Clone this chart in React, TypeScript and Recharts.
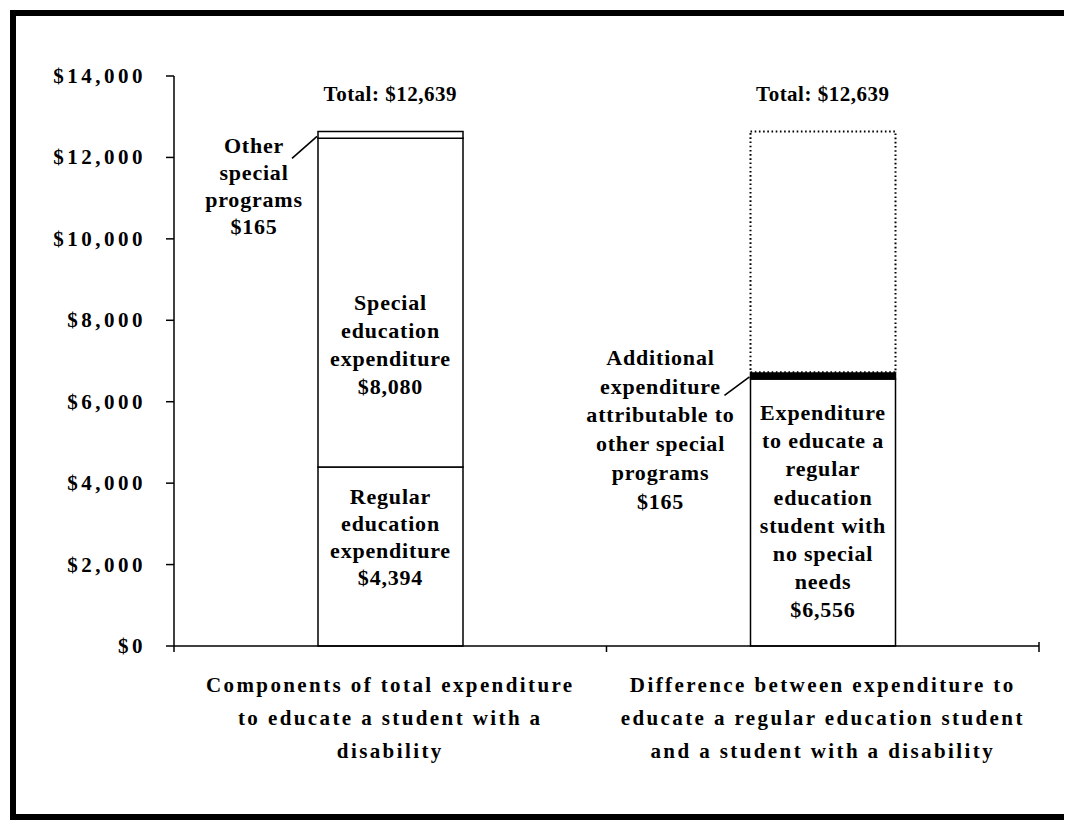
import React from "react";
import { ComposedChart, Bar, Line, XAxis, YAxis, Cell, LabelList } from "recharts";

// ---------- data ----------
const categoryKeys = ["components", "difference"];
const categoryLines = [
  ["Components of total expenditure", "to educate a student with a", "disability"],
  ["Difference between expenditure to", "educate a regular education student", "and a student with a disability"],
];
const regularValues = [4394, 6556];
const specialValues = [8080, 0];
const otherValues = [165, 165];
const additionalValues = [0, 5918];
const totalValues = [12639, 12639];
const yTicks = [0, 2000, 4000, 6000, 8000, 10000, 12000, 14000];

const regularLabels: (string[] | null)[] = [
  ["Regular", "education", "expenditure", "$4,394"],
  ["Expenditure", "to educate a", "regular", "education", "student with", "no special", "needs", "$6,556"],
];
const specialLabels: (string[] | null)[] = [["Special", "education", "expenditure", "$8,080"], null];
const otherLabels: (string[] | null)[] = [
  ["Other", "special", "programs", "$165"],
  ["Additional", "expenditure", "attributable to", "other special", "programs", "$165"],
];
const additionalLabels: (string[] | null)[] = [
  null,
  ["Additional", "expenditure", "attributable", "to special", "education", "$5,918"],
];

const data = categoryKeys.map((k, i) => ({
  name: k,
  regular: regularValues[i],
  special: specialValues[i],
  other: otherValues[i],
  additional: additionalValues[i],
  total: totalValues[i],
}));

// ---------- styles ----------
const FONT = "'Liberation Serif', 'Times New Roman', serif";
const W = 1064;
const H = 812;
const MARGIN = { top: 68, right: 33, bottom: 74, left: 36 };
const Y_WIDTH = 130;
const PLOT_W = W - MARGIN.left - MARGIN.right - Y_WIDTH;

type Layout = {
  dx?: number;
  dy: number;
  lh: number;
  leader?: [number, number, number, number];
};

const regularLayout: (Layout | null)[] = [
  { dy: 30, lh: 27 },
  { dy: 34, lh: 28.2 },
];
const specialLayout: (Layout | null)[] = [{ dy: 165, lh: 28 }, null];
const otherLayout: (Layout | null)[] = [
  { dx: -64, dy: 15, lh: 26.7, leader: [-26, 27, -1, 5] },
  { dx: -90, dy: -14.5, lh: 28.8, leader: [-26, 23, -1, 4.5] },
];
const additionalLayout: (Layout | null)[] = [null, { dy: 44.5, lh: 28.2 }];

function makeSegmentLabel(lines: (string[] | null)[], layout: (Layout | null)[]) {
  return (props: any) => {
    const idx = props.index;
    const txt = lines[idx];
    const lay = layout[idx];
    if (!txt || !lay) return null;
    const vb = props.viewBox && props.viewBox.width !== undefined ? props.viewBox : props;
    const x = Number(vb.x);
    const y = Number(vb.y);
    const w = Number(vb.width);
    const h = Number(vb.height);
    const top = Math.min(y, y + h);
    const cx = lay.dx === undefined ? x + w / 2 : x + lay.dx;
    return (
      <g>
        {lay.leader && (
          <line
            x1={x + lay.leader[0]}
            y1={top + lay.leader[1]}
            x2={x + lay.leader[2]}
            y2={top + lay.leader[3]}
            stroke="#000"
            strokeWidth={1.6}
          />
        )}
        <text
          textAnchor="middle"
          fontFamily={FONT}
          fontWeight="bold"
          fontSize={22}
          letterSpacing={0.8}
          fill="#000"
        >
          {txt.map((t, i) => (
            <tspan key={i} x={cx} y={top + lay.dy + i * lay.lh + 7}>
              {t}
            </tspan>
          ))}
        </text>
      </g>
    );
  };
}

const renderTotal = (props: any) => {
  const idx = props.index;
  const x = Number(props.x);
  const y = Number(props.y);
  return (
    <text
      x={x}
      y={y - 30}
      textAnchor="middle"
      fontFamily={FONT}
      fontWeight="bold"
      fontSize={21}
      letterSpacing={0.5}
      fill="#000"
    >
      {`Total: $${totalValues[idx].toLocaleString("en-US")}`}
    </text>
  );
};

const YTick = (props: any) => {
  const { x, y, payload } = props;
  return (
    <text
      x={x}
      y={y}
      dy={7}
      textAnchor="end"
      fontFamily={FONT}
      fontWeight="bold"
      fontSize={21}
      letterSpacing={3.5}
      fill="#000"
    >
      {`$${Number(payload.value).toLocaleString("en-US")}`}
    </text>
  );
};

const XTick = (props: any) => {
  const { x, y, payload } = props;
  const idx = payload.index ?? categoryKeys.indexOf(payload.value);
  const lines = categoryLines[idx] || [];
  const half = PLOT_W / categoryKeys.length / 2;
  const isLast = idx === categoryKeys.length - 1;
  return (
    <g>
      <line x1={x - half} y1={y} x2={x - half} y2={y + 6} stroke="#000" strokeWidth={1.5} />
      {isLast && <line x1={x + half} y1={y - 4} x2={x + half} y2={y + 6} stroke="#000" strokeWidth={1.5} />}
      <text
        textAnchor="middle"
        fontFamily={FONT}
        fontWeight="bold"
        fontSize={21}
        letterSpacing={2.4}
        fill="#000"
      >
        {lines.map((t, i) => (
          <tspan key={i} x={x} y={y + 46 + i * 33}>
            {t}
          </tspan>
        ))}
      </text>
    </g>
  );
};

const regularFill = ["#fff", "#fff"];
const specialFill = ["#fff", "#fff"];
const otherFill = ["#fff", "#000"];
const additionalFill = ["#fff", "#fff"];

export default function App() {
  return (
    <div style={{ position: "relative", width: W, height: H, overflow: "hidden", background: "#fff" }}>
      <div
        style={{
          position: "absolute",
          left: 2,
          top: 2,
          width: 1120,
          height: 810,
          boxSizing: "border-box",
          border: "6px solid #000",
        }}
      />
      <div style={{ position: "absolute", left: 0, top: 0 }}>
        <ComposedChart width={W} height={H} data={data} margin={MARGIN} barCategoryGap={0}>
          <XAxis
            dataKey="name"
            type="category"
            axisLine={{ stroke: "#000", strokeWidth: 1.5 }}
            tickLine={false}
            tickSize={0}
            tickMargin={0}
            tick={<XTick />}
            interval={0}
            height={100}
          />
          <YAxis
            type="number"
            domain={[0, 14000]}
            ticks={yTicks}
            width={Y_WIDTH}
            tickSize={8}
            tickMargin={20}
            tick={<YTick />}
            interval={0}
            tickLine={{ stroke: "#000", strokeWidth: 1.5 }}
            axisLine={{ stroke: "#000", strokeWidth: 1.5 }}
          />
          <Bar dataKey="regular" stackId="s" barSize={145} isAnimationActive={false} stroke="#000" strokeWidth={1.5}>
            {data.map((_, i) => (
              <Cell key={i} fill={regularFill[i]} stroke="#000" />
            ))}
            <LabelList content={makeSegmentLabel(regularLabels, regularLayout)} />
          </Bar>
          <Bar dataKey="special" stackId="s" barSize={145} isAnimationActive={false} stroke="#000" strokeWidth={1.5}>
            {data.map((_, i) => (
              <Cell key={i} fill={specialFill[i]} stroke={specialValues[i] ? "#000" : "none"} />
            ))}
            <LabelList content={makeSegmentLabel(specialLabels, specialLayout)} />
          </Bar>
          <Bar dataKey="other" stackId="s" barSize={145} isAnimationActive={false} stroke="#000" strokeWidth={1.5}>
            {data.map((_, i) => (
              <Cell key={i} fill={otherFill[i]} stroke="#000" />
            ))}
            <LabelList content={makeSegmentLabel(otherLabels, otherLayout)} />
          </Bar>
          <Bar dataKey="additional" stackId="s" barSize={145} isAnimationActive={false} strokeWidth={2}>
            {data.map((_, i) => (
              <Cell
                key={i}
                fill={additionalFill[i]}
                stroke={additionalValues[i] ? "#000" : "none"}
                strokeDasharray="1.6 2.6"
              />
            ))}
            <LabelList content={makeSegmentLabel(additionalLabels, additionalLayout)} />
          </Bar>
          <Line
            dataKey="total"
            stroke="none"
            dot={false}
            activeDot={false}
            legendType="none"
            isAnimationActive={false}
          >
            <LabelList content={renderTotal} />
          </Line>
        </ComposedChart>
      </div>
    </div>
  );
}
